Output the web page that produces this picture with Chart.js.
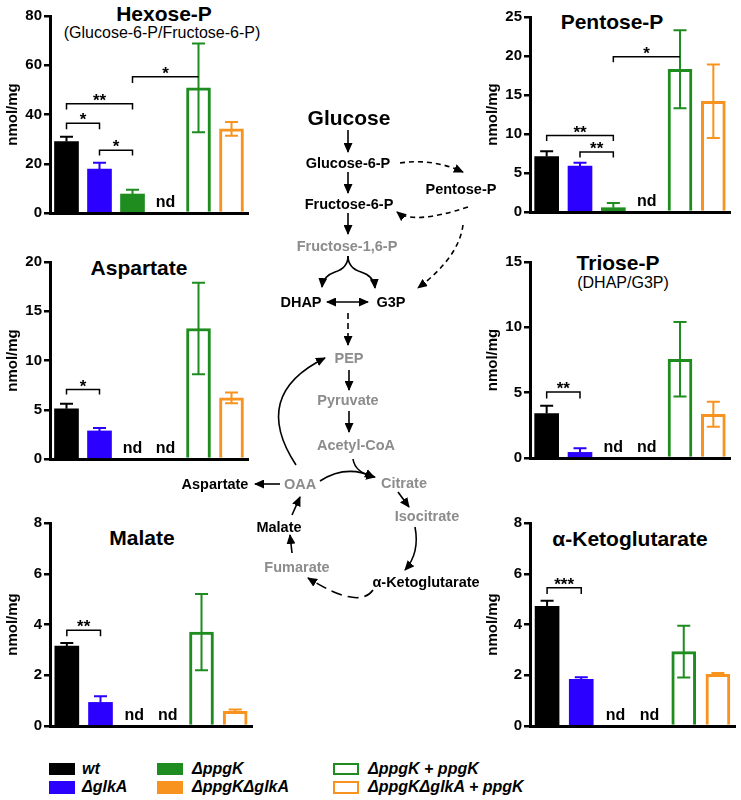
<!DOCTYPE html>
<html>
<head>
<meta charset="utf-8">
<script src="https://cdn.jsdelivr.net/npm/chart.js@4.4.1/dist/chart.umd.min.js"></script>
<style>
  html, body { margin: 0; padding: 0; background: #fff; }
  body { width: 741px; height: 800px; position: relative; overflow: hidden;
         font-family: 'Liberation Sans', Arial, Helvetica, sans-serif; }
  .cv { position: absolute; }
  .t { position: absolute; transform: translate(-50%, -50%); line-height: 1; white-space: nowrap; color: #000; }
  .title { font-weight: bold; font-size: 21px; }
  .sub { font-size: 16px; }
  svg { position: absolute; left: 0; top: 0; z-index: 5; }
  .lg { position: absolute; font-weight: bold; font-style: italic; font-size: 16px; line-height: 1; transform: translateY(-50%); white-space: nowrap; }
  .sw { position: absolute; box-sizing: border-box; width: 26px; height: 12px; }
</style>
</head>
<body>

<!-- panel titles -->
<div class="t title" style="left:164px; top:13px;">Hexose-P</div>
<div class="t sub" style="left:162px; top:33px;">(Glucose-6-P/Fructose-6-P)</div>
<div class="t title" style="left:612px; top:21px;">Pentose-P</div>
<div class="t title" style="left:139px; top:267px;">Aspartate</div>
<div class="t title" style="left:618px; top:262px;">Triose-P</div>
<div class="t sub" style="left:623px; top:283px;">(DHAP/G3P)</div>
<div class="t title" style="left:142px; top:537px;">Malate</div>
<div class="t title" style="left:630px; top:538px;">α-Ketoglutarate</div>

<canvas id="cHex" class="cv"></canvas>
<canvas id="cPen" class="cv"></canvas>
<canvas id="cAsp" class="cv"></canvas>
<canvas id="cTri" class="cv"></canvas>
<canvas id="cMal" class="cv"></canvas>
<canvas id="cAkg" class="cv"></canvas>

<!-- pathway diagram -->
<svg width="741" height="800" viewBox="0 0 741 800" font-family="'Liberation Sans', Arial, Helvetica, sans-serif" font-weight="bold" font-size="14.5">
  <defs>
    <marker id="ah" viewBox="0 0 10 9" refX="9" refY="4.5" markerWidth="10" markerHeight="9" markerUnits="userSpaceOnUse" orient="auto-start-reverse">
      <path d="M0,0 L10,4.5 L0,9 z" fill="#000"/>
    </marker>
  </defs>
  <g text-anchor="middle" dominant-baseline="central">
    <text x="349" y="117" font-size="21">Glucose</text>
    <text x="348" y="163">Glucose-6-P</text>
    <text x="349" y="204">Fructose-6-P</text>
    <text x="347" y="246" fill="#8c8c8c">Fructose-1,6-P</text>
    <text x="301" y="302">DHAP</text>
    <text x="391" y="302">G3P</text>
    <text x="461" y="189">Pentose-P</text>
    <text x="349" y="358" fill="#8c8c8c">PEP</text>
    <text x="348" y="400" fill="#8c8c8c">Pyruvate</text>
    <text x="356" y="445" fill="#8c8c8c">Acetyl-CoA</text>
    <text x="404" y="483" fill="#8c8c8c">Citrate</text>
    <text x="427" y="516" fill="#8c8c8c">Isocitrate</text>
    <text x="426" y="582">α-Ketoglutarate</text>
    <text x="297" y="567" fill="#8c8c8c">Fumarate</text>
    <text x="279" y="527">Malate</text>
    <text x="300" y="484" fill="#8c8c8c">OAA</text>
    <text x="215" y="484">Aspartate</text>
  </g>
  <g fill="none" stroke="#000" stroke-width="1.6">
    <path d="M348,130 L348,152" marker-end="url(#ah)"/>
    <path d="M348,172 L348,193" marker-end="url(#ah)"/>
    <path d="M348,213 L348,234" marker-end="url(#ah)"/>
    <path d="M348,256 Q348,268 335,272 Q323,276 322,287" marker-end="url(#ah)"/>
    <path d="M348,256 Q348,268 361,272 Q374,276 375,288" marker-end="url(#ah)"/>
    <path d="M327,302 L368,302" marker-start="url(#ah)" marker-end="url(#ah)"/>
    <path d="M348,313 L348,345" stroke-dasharray="6,4" marker-end="url(#ah)"/>
    <path d="M349,370 L349,390" marker-end="url(#ah)"/>
    <path d="M349,411 L349,432" marker-end="url(#ah)"/>
    <path d="M353,459 Q355,473 375,477" marker-end="url(#ah)"/>
    <path d="M320,481 Q346,464 374,477" marker-end="url(#ah)"/>
    <path d="M398,492 L409,507" marker-end="url(#ah)"/>
    <path d="M415,527 Q420,553 405,570" marker-end="url(#ah)"/>
    <path d="M373,590 Q359,610 308,578" stroke-dasharray="11,6" marker-end="url(#ah)"/>
    <path d="M292,553 L290,535" marker-end="url(#ah)"/>
    <path d="M292,515 L300,497" marker-end="url(#ah)"/>
    <path d="M280,484 L255,484" marker-end="url(#ah)"/>
    <path d="M296,465 Q250,395 325,358" marker-end="url(#ah)"/>
    <path d="M400,163 Q432,158 463,172" stroke-dasharray="5,4" marker-end="url(#ah)"/>
    <path d="M468,207 Q413,225 397,212" stroke-dasharray="5,4" marker-end="url(#ah)"/>
    <path d="M463,225 Q459,257 418,288" stroke-dasharray="5,4" marker-end="url(#ah)"/>
  </g>
</svg>

<!-- legend -->
<div class="sw" style="left:49px; top:763px; background:#000;"></div>
<div class="lg" style="left:82px; top:769px;">wt</div>
<div class="sw" style="left:49px; top:781px; height:13px; background:#2b00ff;"></div>
<div class="lg" style="left:82px; top:787px;">ΔglkA</div>
<div class="sw" style="left:157px; top:763px; background:#1e8c1e;"></div>
<div class="lg" style="left:192px; top:769px;">ΔppgK</div>
<div class="sw" style="left:157px; top:781px; height:13px; background:#f7931e;"></div>
<div class="lg" style="left:192px; top:787px;">ΔppgKΔglkA</div>
<div class="sw" style="left:333px; top:763px; border:2.5px solid #1e8c1e;"></div>
<div class="lg" style="left:368px; top:769px;">ΔppgK + ppgK</div>
<div class="sw" style="left:333px; top:781px; height:13px; border:2.5px solid #f7931e;"></div>
<div class="lg" style="left:368px; top:787px;">ΔppgKΔglkA + ppgK</div>

<script>
// ---------------- data ----------------
const categories = ['wt', 'ΔglkA', 'ΔppgK', 'ΔppgKΔglkA', 'ΔppgK + ppgK', 'ΔppgKΔglkA + ppgK'];

const hexoseValues    = [29.0, 17.8, 7.7, null, 50.8, 34.2];
const hexoseErrors    = [2.0, 2.6, 1.7, null, 18.0, 2.8];
const pentoseValues   = [7.1, 5.9, 0.55, null, 18.3, 14.2];
const pentoseErrors   = [0.7, 0.4, 0.6, null, 5.0, 4.7];
const aspartateValues = [5.1, 2.85, null, null, 13.25, 6.2];
const aspartateErrors = [0.5, 0.3, null, null, 4.65, 0.55];
const trioseValues    = [3.4, 0.43, null, null, 7.55, 3.35];
const trioseErrors    = [0.6, 0.32, null, null, 2.85, 0.95];
const malateValues    = [3.15, 0.93, null, null, 3.7, 0.58];
const malateErrors    = [0.12, 0.24, null, null, 1.5, 0.07];
const akgValues       = [4.72, 1.84, null, null, 2.93, 2.04];
const akgErrors       = [0.22, 0.08, null, null, 1.02, 0.05];

// y-axis tick ranges [max, step]
const hexoseAxis = [80, 20];
const pentoseAxis = [25, 5];
const aspartateAxis = [20, 5];
const trioseAxis = [15, 5];
const malateAxis = [8, 2];
const akgAxis = [8, 2];

// significance brackets: [fromIndex, toIndex, level, leftTickEnd, rightTickEnd, label]
const hexoseSig = [[0, 1, 36.4, 34.0, 34.0, '*'], [0, 2, 44.4, 42.0, 42.0, '**'], [1, 2, 25.5, 23.4, 23.4, '*'], [2, 4, 55.3, 52.8, null, '*']];
const pentoseSig = [[0, 2, 9.8, 9.1, 9.1, '**'], [1, 2, 7.7, 7.0, 7.0, '**'], [2, 4, 19.9, 19.2, null, '*']];
const aspartateSig = [[0, 1, 7.05, 6.55, 6.55, '*']];
const trioseSig = [[0, 1, 5.05, 4.55, 4.55, '**']];
const malateSig = [[0, 1, 3.77, 3.54, 3.54, '**']];
const akgSig = [[0, 1, 5.45, 5.2, 5.2, '***']];

// ---------------- styling ----------------
const FONT = "'Liberation Sans', Arial, Helvetica, sans-serif";
Chart.defaults.font.family = FONT;
Chart.defaults.color = '#000';
const C_BLACK = '#000000', C_BLUE = '#2b00ff', C_GREEN = '#1e8c1e', C_ORANGE = '#f7931e';
const seriesColors = [C_BLACK, C_BLUE, C_GREEN, C_ORANGE, C_GREEN, C_ORANGE];
const isOpen = [false, false, false, false, true, true];

const extrasPlugin = {
  id: 'extras',
  afterDatasetsDraw(chart, args, opts) {
    const ctx = chart.ctx;
    const y = chart.scales.y;
    const meta = chart.getDatasetMeta(0);
    const vals = chart.data.datasets[0].data;
    const errs = opts.errors;
    ctx.save();
    // error bars
    vals.forEach((v, i) => {
      if (v === null || v === undefined) return;
      const x = meta.data[i].x;
      const top = y.getPixelForValue(v + errs[i]);
      const mid = y.getPixelForValue(v);
      const bot = y.getPixelForValue(Math.max(0, v - errs[i]));
      ctx.strokeStyle = seriesColors[i];
      ctx.lineWidth = 2;
      ctx.beginPath();
      ctx.moveTo(x, top); ctx.lineTo(x, isOpen[i] ? bot : mid);
      ctx.moveTo(x - 6.5, top); ctx.lineTo(x + 6.5, top);
      if (isOpen[i]) { ctx.moveTo(x - 6.5, bot); ctx.lineTo(x + 6.5, bot); }
      ctx.stroke();
    });
    // nd labels
    ctx.fillStyle = '#000';
    ctx.font = 'bold 16px ' + FONT;
    ctx.textAlign = 'center';
    ctx.textBaseline = 'alphabetic';
    vals.forEach((v, i) => {
      if (v === null || v === undefined) {
        ctx.fillText('nd', meta.data[i].x, y.getPixelForValue(0) - 6);
      }
    });
    // brackets
    ctx.strokeStyle = '#000';
    ctx.lineWidth = 1.5;
    (opts.sig || []).forEach(([a, b, lvl, lt, rt, label]) => {
      const xa = meta.data[a].x, xb = meta.data[b].x;
      const yl = y.getPixelForValue(lvl);
      ctx.beginPath();
      if (lt !== null) { ctx.moveTo(xa, y.getPixelForValue(lt)); ctx.lineTo(xa, yl); } else ctx.moveTo(xa, yl);
      ctx.lineTo(xb, yl);
      if (rt !== null) ctx.lineTo(xb, y.getPixelForValue(rt));
      ctx.stroke();
      ctx.font = 'bold 17px ' + FONT;
      ctx.fillText(label, (xa + xb) / 2, yl + 2);
    });
    ctx.restore();
  }
};

function makeChart(id, values, errors, axis, sig, box) {
  // box: [axisX, topPx, bottomPx, rightPx]
  const [ax, tp, bt, rt] = box;
  const el = document.getElementById(id);
  const w = rt - ax + 50 + 4, h = bt - tp + 16 + 10;
  el.style.left = (ax - 50) + 'px';
  el.style.top = (tp - 16) + 'px';
  el.style.width = w + 'px';
  el.style.height = h + 'px';
  el.width = w; el.height = h;
  return new Chart(el, {
    type: 'bar',
    data: {
      labels: categories,
      datasets: [{
        data: values,
        backgroundColor: seriesColors.map((c, i) => isOpen[i] ? '#ffffff' : c),
        borderColor: seriesColors,
        borderWidth: isOpen.map(o => o ? 3 : 0),
        borderSkipped: 'bottom',
        barThickness: 24
      }]
    },
    options: {
      responsive: false,
      animation: false,
      devicePixelRatio: 1,
      layout: { padding: { left: 0, top: 16, right: 4, bottom: 10 } },
      plugins: {
        legend: { display: false },
        tooltip: { enabled: false },
        extras: { errors: errors, sig: sig }
      },
      scales: {
        x: {
          ticks: { display: false },
          grid: { display: false, drawTicks: false },
          border: { display: true, width: 3, color: '#000' }
        },
        y: {
          min: 0, max: axis[0],
          ticks: { stepSize: axis[1], font: { size: 15, weight: 'bold' }, color: '#000', padding: 2 },
          grid: { display: true, drawOnChartArea: false, drawTicks: true, tickLength: 6, lineWidth: 2.5, color: '#000' },
          border: { display: true, width: 3, color: '#000' },
          title: { display: true, text: 'nmol/mg', font: { size: 15, weight: 'bold' }, color: '#000', padding: { top: 4, bottom: 0 } },
          afterFit(scale) { scale.width = 50; }
        }
      }
    },
    plugins: [extrasPlugin]
  });
}

makeChart('cHex', hexoseValues, hexoseErrors, hexoseAxis, hexoseSig, [50, 16, 214, 248]);
makeChart('cPen', pentoseValues, pentoseErrors, pentoseAxis, pentoseSig, [530, 17, 213, 730]);
makeChart('cAsp', aspartateValues, aspartateErrors, aspartateAxis, aspartateSig, [50, 262, 460, 248]);
makeChart('cTri', trioseValues, trioseErrors, trioseAxis, trioseSig, [530, 262, 459, 730]);
makeChart('cMal', malateValues, malateErrors, malateAxis, malateSig, [50, 523, 727, 252]);
makeChart('cAkg', akgValues, akgErrors, akgAxis, akgSig, [530, 523, 727, 735]);
</script>
</body>
</html>
